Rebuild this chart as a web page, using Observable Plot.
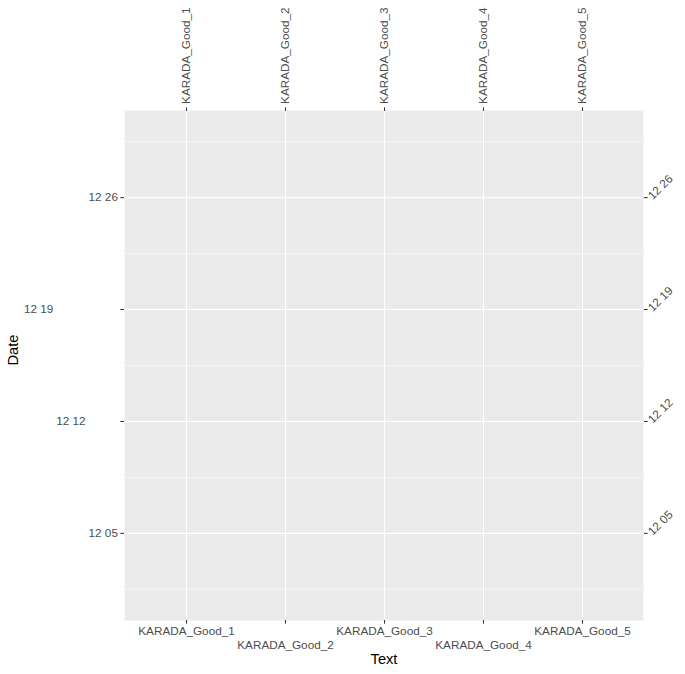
<!DOCTYPE html>
<html>
<head>
<meta charset="utf-8">
<script src="https://cdn.jsdelivr.net/npm/d3@7"></script>
<script src="https://cdn.jsdelivr.net/npm/@observablehq/plot@0.6"></script>
<style>
html, body { margin: 0; padding: 0; background: #fff; overflow: hidden; }
</style>
</head>
<body>
<div id="chart"></div>
<script>
// ---- data ----
const categories = ["KARADA_Good_1", "KARADA_Good_2", "KARADA_Good_3", "KARADA_Good_4", "KARADA_Good_5"];
const dateRange = ["2023-12-01", "2023-12-30"];
const yTickDates = ["2023-12-05", "2023-12-12", "2023-12-19", "2023-12-26"];
const yTickLabels = ["12 05", "12 12", "12 19", "12 26"];
const yMinorDates = ["2023-12-01T12:00Z", "2023-12-08T12:00Z", "2023-12-15T12:00Z", "2023-12-22T12:00Z", "2023-12-29T12:00Z"];
const yLeftLabelHjust = [1, 2, 3, 1];
const xTitle = "Text";
const yTitle = "Date";

// ---- layout ----
const W = 685, H = 674;
const mL = 124, mR = 42, mT = 110, mB = 54;
const tickLen = 3.67, tickPad = 2.93, fs = 11.73, titleFs = 14.67;
const labelCol = "#4D4D4D", tickCol = "#333333";

const d0 = new Date(dateRange[0]), d1 = new Date(dateRange[1]);
const span = d1 - d0;
const yDomain = [new Date(+d0 - 0.05 * span), new Date(+d1 + 0.05 * span)];
const yTicks = yTickDates.map(d => new Date(d));
const yMinor = yMinorDates.map(d => new Date(d));
const fmtY = d => yTickLabels[yTicks.findIndex(t => +t === +d)];

const axisCommon = {fill: labelCol, stroke: tickCol, strokeWidth: 1.07, fontSize: fs, label: null, tickSize: tickLen};

// left axis, labels staggered by hjust group
const leftAxes = [...new Set(yLeftLabelHjust)].map(h =>
  Plot.axisY(yTicks.filter((t, i) => yLeftLabelHjust[i] === h), {
    ...axisCommon, anchor: "left", tickPadding: tickPad + (h - 1) * 32.3, tickFormat: fmtY
  })
);

const chart = Plot.plot({
  width: W, height: H,
  marginLeft: mL, marginRight: mR, marginTop: mT, marginBottom: mB,
  style: {fontFamily: "'Liberation Sans', Arial, sans-serif", background: "#fff", overflow: "visible"},
  x: {type: "point", domain: categories, padding: 0.6},
  y: {type: "utc", domain: yDomain},
  marks: [
    Plot.frame({fill: "#EBEBEB", stroke: "none"}),
    Plot.gridY(yMinor, {stroke: "#fff", strokeOpacity: 1, strokeWidth: 0.53}),
    Plot.gridY(yTicks, {stroke: "#fff", strokeOpacity: 1, strokeWidth: 1.07}),
    Plot.gridX(categories, {stroke: "#fff", strokeOpacity: 1, strokeWidth: 1.07}),
    ...leftAxes,
    Plot.axisY(yTicks, {...axisCommon, anchor: "right", tickPadding: tickPad, tickRotate: -45, textAnchor: "start", tickFormat: fmtY}),
    Plot.axisX(categories, {...axisCommon, anchor: "top", tickPadding: tickPad, tickRotate: -90}),
    Plot.axisX(categories.filter((d, i) => i % 2 === 0), {...axisCommon, anchor: "bottom", tickPadding: tickPad}),
    Plot.axisX(categories.filter((d, i) => i % 2 === 1), {...axisCommon, anchor: "bottom", tickPadding: tickPad + 13.3}),
    Plot.text([xTitle], {text: d => d, frameAnchor: "bottom", dy: 39, lineAnchor: "middle", fontSize: titleFs, fill: "#000"}),
    Plot.text([yTitle], {text: d => d, frameAnchor: "left", dx: -111, rotate: -90, lineAnchor: "middle", fontSize: titleFs, fill: "#000"})
  ]
});
document.getElementById("chart").appendChild(chart);
</script>
</body>
</html>
